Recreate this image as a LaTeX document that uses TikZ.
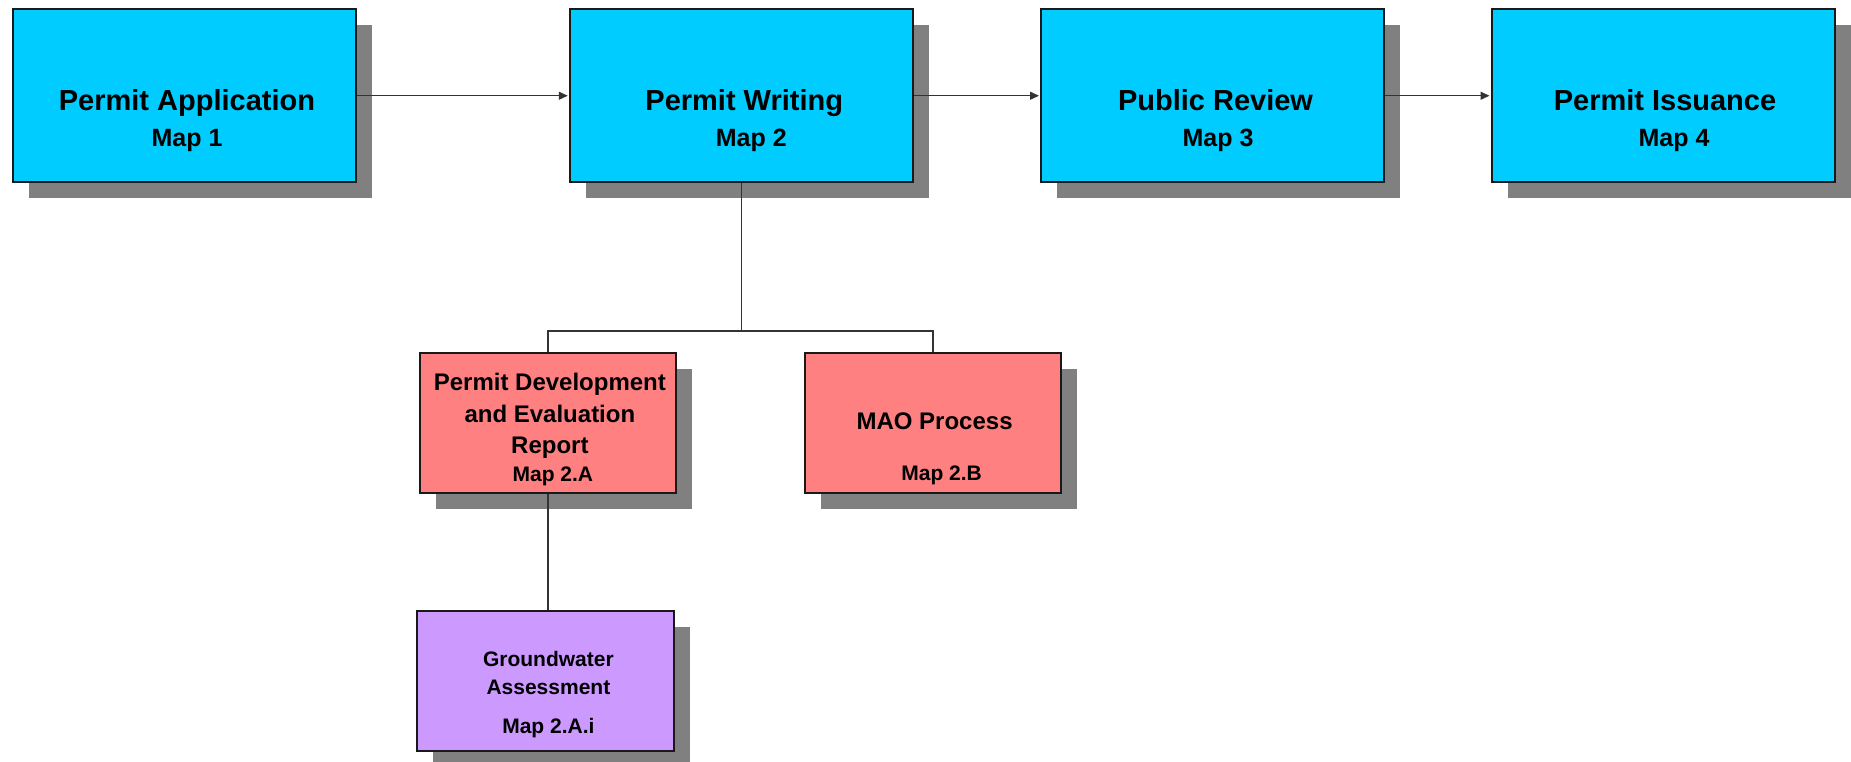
\documentclass[tikz,border=0pt]{standalone}
\usepackage{fontspec}
\setmainfont{Liberation Sans}
\usetikzlibrary{arrows.meta,shadows}
\definecolor{boxcyan}{HTML}{00CCFF}
\definecolor{boxpink}{HTML}{FF8080}
\definecolor{boxpurple}{HTML}{CC99FF}
\definecolor{shadowgray}{HTML}{808080}
\definecolor{linegray}{HTML}{333333}
\tikzset{
  box/.style={draw=black!90, line width=2pt, rectangle, inner sep=0pt,
    drop shadow={shadow xshift=16pt, shadow yshift=-16pt, fill=shadowgray, opacity=1}},
  mainbox/.style={box, fill=boxcyan, minimum width=343pt, minimum height=172.5pt},
  subbox/.style={box, fill=boxpink, minimum width=256.3pt, minimum height=140pt},
  gwbox/.style={box, fill=boxpurple, minimum width=257.3pt, minimum height=140pt},
  maintxt/.style={align=center, inner sep=0pt, font=\bfseries\fontsize{29}{36.5}\selectfont},
  subtxt/.style={align=center, inner sep=0pt, font=\bfseries\fontsize{24}{31.5}\selectfont},
  gwtxt/.style={align=center, inner sep=0pt, font=\bfseries\fontsize{21}{28.3}\selectfont},
  conn/.style={draw=linegray, line width=1.3pt},
  flow/.style={conn, -{Triangle[length=9pt,width=8pt]}, shorten >=1pt}
}
\newcommand{\mapsz}{\fontsize{25}{25}\selectfont}
\newcommand{\submapsz}{\fontsize{21}{21}\selectfont}
\begin{document}
\begin{tikzpicture}[x=1pt,y=-1pt]
\useasboundingbox (0,0) rectangle (1851,762);
% main row
\node[mainbox] (pa) at (184,95.75) {};
\node[mainbox] (wr) at (741.25,95.75) {};
\node[mainbox] (pr) at (1212.5,95.75) {};
\node[mainbox] (pi) at (1663,95.75) {};
\node[maintxt] (pa-t) at ([xshift=3pt,yshift=-25pt]pa.center) {Permit Application\\{\mapsz Map 1}};
\node[maintxt] (wr-t) at ([xshift=3pt,yshift=-25pt]wr.center) {Permit Writing\\{\mapsz\hspace*{14pt}Map 2}};
\node[maintxt] (pr-t) at ([xshift=3pt,yshift=-25pt]pr.center) {Public Review\\{\mapsz\hspace*{5pt}Map 3}};
\node[maintxt] (pi-t) at ([xshift=2pt,yshift=-25pt]pi.center) {Permit Issuance\\{\mapsz\hspace*{18pt}Map 4}};
\draw[flow] (pa.east) -- (wr.west);
\draw[flow] (wr.east) -- (pr.west);
\draw[flow] (pr.east) -- (pi.west);
% second level
\node[subbox] (pder) at (547.9,423.3) {};
\node[subbox] (mao) at (932.9,423.3) {};
\node[subtxt] (pder-t) at ([xshift=2pt,yshift=-6.5pt]pder.center) {Permit Development\\and Evaluation\\Report\\[-3.7pt]{\submapsz\hspace*{6pt}Map 2.A}};
\node[subtxt] (mao-t) at ([xshift=1.7pt,yshift=-25.7pt]mao.center) {MAO Process\\[19pt]{\submapsz\hspace*{14pt}Map 2.B}};
\coordinate (split) at (741.25,331);
\draw[conn] (wr.south) -- (split);
\draw[conn] (split) -| (pder.north);
\draw[conn] (split) -| (mao.north);
% third level
\node[gwbox] (gw) at (545.4,680.7) {};
\node[gwtxt] (gw-t) at ([xshift=3pt,yshift=-13.8pt]gw.center) {Groundwater\\Assessment\\[10pt]Map 2.A.i};
\draw[conn] (pder.south) -- (pder.south |- gw.north);
\end{tikzpicture}
\end{document}
